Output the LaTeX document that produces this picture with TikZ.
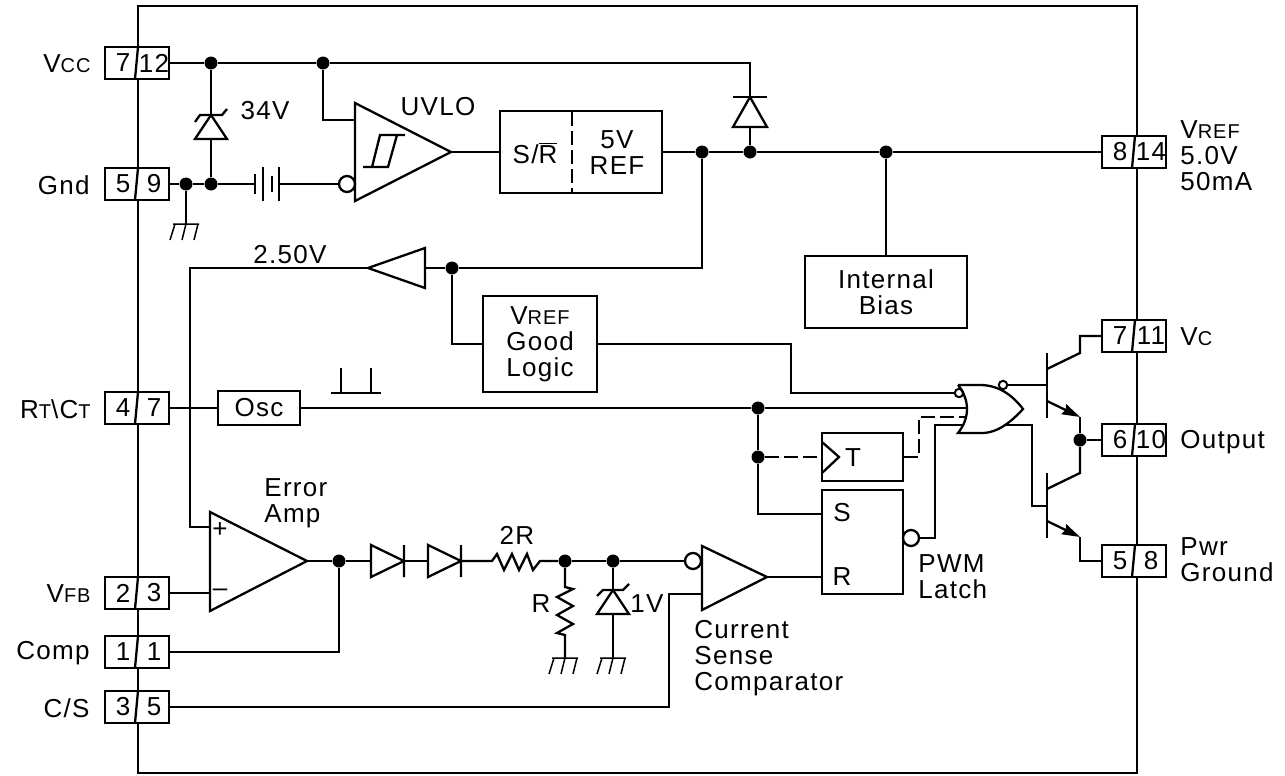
\documentclass[tikz,border=0pt]{standalone}
\usepackage{fontspec}
\setmainfont[LetterSpace=5]{Liberation Sans}
\usepackage{tikz}
\usetikzlibrary{arrows.meta}

\tikzset{
  wire/.style={line width=1.15pt},
  pinbox/.style={draw,line width=1.15pt,fill=white,minimum width=32pt,minimum height=16pt,inner sep=0pt},
  blockbox/.style={draw,line width=1.15pt,fill=white,inner sep=0pt},
  dot/.style={circle,fill=black,minimum size=6.5pt,inner sep=0pt},
  bubble/.style={circle,draw,line width=1.15pt,fill=white,minimum size=8pt,inner sep=0pt},
  smallbubble/.style={circle,draw,line width=1pt,fill=white,minimum size=4.2pt,inner sep=0pt},
  lbl/.style={inner sep=0pt,align=center,font=\fontsize{13}{13}\selectfont},
  lblleft/.style={lbl,anchor=west,align=left},
  dashwire/.style={wire,dash pattern=on 7pt off 2.5pt},
  tip/.style={-{Stealth[length=9pt,width=5.5pt,inset=1pt]}}
}

\newcommand{\pinnum}[5]{%
  \node[pinbox] (#1) at (#2,#3) {};
  \node[lbl] (#1a) at (#2-14,#3) {#4};
  \node[lbl] (#1b) at (#2+17,#3) {#5};
  \draw[wire] (#2+1,#3-16) -- (#2-2,#3+16);
}
\newcommand{\gndsym}[2]{%
  \draw[line width=0.75pt] (#1-13,#2) -- (#1+13,#2)
    (#1-11,#2) -- (#1-16,#2+16)
    (#1,#2) -- (#1-4,#2+16)
    (#1+12,#2) -- (#1+8,#2+16);
}
\newcommand{\smallcap}[1]{{\fontsize{10}{10}\selectfont #1}}

\begin{document}
\begin{tikzpicture}[x=0.5pt,y=-0.5pt]
  \useasboundingbox (0,0) rectangle (1285,776);

  % chip outline
  \draw[wire] (138,6) rectangle (1137,773);

  % pins
  \pinnum{vcc}{137}{63}{7}{12}
  \pinnum{gnd}{137}{184}{5}{9}
  \pinnum{rtct}{137}{408}{4}{7}
  \pinnum{vfb}{137}{593}{2}{3}
  \pinnum{comp}{137}{652}{1}{1}
  \pinnum{cs}{137}{707}{3}{5}
  \pinnum{vref}{1134}{152}{8}{14}
  \pinnum{vc}{1134}{336}{7}{11}
  \pinnum{out}{1134}{440}{6}{10}
  \pinnum{pwr}{1134}{561}{5}{8}

  \node[lbl,anchor=east] (vccl) at (91,64) {V\smallcap{CC}};
  \node[lbl,anchor=east] (gndl) at (90,185) {Gnd};
  \node[lbl,anchor=east] (rtctl) at (91,409) {R\smallcap{T}\textbackslash C\smallcap{T}};
  \node[lbl,anchor=east] (vfbl) at (91,594) {V\smallcap{FB}};
  \node[lbl,anchor=east] (compl) at (90,653) {Comp};
  \node[lbl,anchor=east] (csl) at (90,708) {C/S};
  \node[lblleft] (vrefl) at (1180,156) {V\smallcap{REF}\\5.0V\\50mA};
  \node[lblleft] (vcl) at (1180,337) {V\smallcap{C}};
  \node[lblleft] (outl) at (1180,442) {Output};
  \node[lblleft] (pwrl) at (1180,560) {Pwr\\Ground};

  % blocks
  \node[blockbox,minimum width=81pt,minimum height=41pt] (refbox) at (581,152) {};
  \node[lbl] (srl) at (535,153) {S/$\overline{\mbox{R}}$};
  \node[lbl] (refl) at (617,153) {5V\\REF};
  \draw[dashwire] (572,112) -- (572,192);
  \node[blockbox,minimum width=81pt,minimum height=36pt,align=center,lbl] (bias) at (886,292) {Internal\\Bias};
  \node[blockbox,minimum width=57pt,minimum height=48pt,lbl] (good) at (540,344) {V\smallcap{REF}\\Good\\Logic};
  \node[blockbox,minimum width=41pt,minimum height=17pt,lbl] (osc) at (259,408) {Osc};
  \node[blockbox,minimum width=40.5pt,minimum height=24pt] (tbox) at (862.5,457) {};
  \node[lbl] (tl) at (853,458) {T};
  \node[blockbox,minimum width=40.5pt,minimum height=52pt] (latch) at (862.5,542) {};
  \node[lbl] (sl) at (842,513) {S};
  \node[lbl] (rl) at (842,577) {R};

  % junctions
  \node[dot] (j1) at (211,63) {};
  \node[dot] (j2) at (323,63) {};
  \node[dot] (j3) at (186,184) {};
  \node[dot] (j4) at (211,184) {};
  \node[dot] (j5) at (702,152) {};
  \node[dot] (j6) at (750,152) {};
  \node[dot] (j7) at (886,152) {};
  \node[dot] (j8) at (452,268) {};
  \node[dot] (j9) at (758,408) {};
  \node[dot] (j10) at (758,457) {};
  \node[dot] (j11) at (339,561) {};
  \node[dot] (j12) at (565,561) {};
  \node[dot] (j13) at (613,561) {};
  \node[dot] (j14) at (1080,440) {};

  \coordinate (uvloa) at (355,120);
  \coordinate (uvloy) at (451,152);
  \coordinate (bufa) at (425,268);
  \coordinate (bufy) at (368,268);
  \coordinate (errp) at (210,527);
  \coordinate (errm) at (210,593);
  \coordinate (erry) at (307,561);
  \coordinate (cmpb) at (702,594);
  \coordinate (cmpy) at (767,577);
  \coordinate (orb) at (968,408);
  \coordinate (orc) at (965,417);
  \coordinate (ord) at (962,425);
  \coordinate (ory) at (1005,425);
  \coordinate (q1b) at (1047,385);
  \coordinate (q2b) at (1047,506);

  \node[bubble] (uvlon) at (347,184) {};
  \node[bubble] (cmpn) at (693,561) {};
  \node[bubble] (latchn) at (911,538) {};
  \node[smallbubble] (orn) at (959,393) {};
  \node[smallbubble] (ory2) at (1003,385) {};

  % supply rail and zener
  \draw[wire] (vcc) -- (j1) -- (j2) -- (750,63) -- (750,97);
  \draw[wire] (j1) -- (211,115);
  \draw[wire] (211,139) -- (j4);
  \draw[wire] (195,122) -- (200,115) -- (222,115) -- (227,109);
  \draw[wire] (211,115) -- (195,139) -- (227,139) -- cycle;
  \node[lbl] (zl) at (265,111) {34V};
  \draw[wire] (j2) |- (uvloa);

  % ground and battery
  \draw[wire] (gnd) -- (j3) -- (j4) -- (255,184);
  \draw[wire] (j3) -- (186,224);
  \gndsym{186}{224}
  \draw[wire] (255,174) -- (255,194) (263,167) -- (263,201) (272,176) -- (272,192) (279,167) -- (279,201);
  \draw[wire] (279,184) -- (uvlon);

  % UVLO comparator
  \draw[wire] (355,103) -- (355,201) -- (451,152) -- cycle;
  \draw[wire] (363,167) -- (388,167) -- (397,135) -- (405,135) (372,167) -- (380,135) -- (397,135);
  \node[lbl] (uvlol) at (438,107) {UVLO};
  \draw[wire] (uvloy) -- (refbox.west);

  % reference rail
  \draw[wire] (refbox.east) -- (j5) -- (j6) -- (j7) -- (vref);
  \draw[wire] (733,97) -- (767,97);
  \draw[wire] (750,97) -- (733,127) -- (767,127) -- cycle;
  \draw[wire] (750,127) -- (j6);
  \draw[wire] (j7) -- (bias);

  % 2.50V buffer
  \draw[wire] (j5) |- (j8) -- (bufa);
  \draw[wire] (425,248) -- (425,288) -- (368,268) -- cycle;
  \draw[wire] (bufy) -| (190,527) -- (errp);
  \node[lbl] (vbl) at (290,255) {2.50V};
  \draw[wire] (j8) |- (good.west);
  \draw[wire] (good.east) -- (791,344) |- (orn);

  % oscillator
  \draw[wire] (rtct) -- (osc);
  \draw[wire] (osc) -- (j9) -- (orb);
  \draw[wire] (331,393) -- (381,393) (341,393) -- (341,368) (371,393) -- (371,368);
  \draw[wire] (j9) -- (j10) |- (822,514);
  \draw[dashwire] (j10) -- (tbox.west);
  \draw[wire] (822,442) -- (839,457) -- (822,473);
  \draw[dashwire] (tbox.east) -- (919,457) |- (orc);

  % error amp
  \draw[wire] (210,512) -- (210,611) -- (307,561) -- cycle;
  \node[lbl] (plusl) at (220,530) {+};
  \node[lbl] (minusl) at (220,593) {--};
  \node[lblleft] (errl) at (264,503) {Error\\Amp};
  \draw[wire] (vfb) -- (errm);
  \draw[wire] (erry) -- (j11) -- (371,561);
  \draw[wire] (j11) |- (comp);

  % diodes and divider
  \draw[wire] (371,545) -- (371,577) -- (404,561) -- cycle (404,545) -- (404,577);
  \draw[wire] (404,561) -- (428,561);
  \draw[wire] (428,545) -- (428,577) -- (461,561) -- cycle (461,545) -- (461,577);
  \draw[wire] (461,561) -- (492,561) -- (497,554) -- (504,570) -- (512,554) -- (519,570) -- (527,554) -- (533,570) -- (540,561) -- (j12);
  \node[lbl] (rl2) at (517,535) {2R};
  \draw[wire] (j12) -- (565,587) -- (573,589) -- (557,597) -- (573,606) -- (557,615) -- (573,624) -- (557,633) -- (565,635) -- (565,658);
  \draw[wire] (j12) -- (j13) -- (cmpn);
  \gndsym{565}{658}
  \node[lbl] (rl1) at (541,604) {R};
  \draw[wire] (j13) -- (613,590);
  \draw[wire] (613,590) -- (597,614) -- (629,614) -- cycle;
  \draw[wire] (597,596) -- (603,590) -- (623,590) -- (629,584);
  \draw[wire] (613,614) -- (613,658);
  \gndsym{613}{658}
  \node[lbl] (vl1) at (647,604) {1V};

  % current sense comparator
  \draw[wire] (702,546) -- (702,610) -- (767,577) -- cycle;
  \draw[wire] (cs) -- (669,707) |- (cmpb);
  \draw[wire] (cmpy) -- (822,577);
  \node[lblleft] (cmpl) at (694,658) {Current\\Sense\\Comparator};

  % latch
  \draw[wire] (latchn) -- (935,538) |- (ord);
  \node[lblleft] (pwml) at (918,577) {PWM\\Latch};

  % output gate
  \draw[wire] (958,385) -- (980,385) .. controls (1000,385) and (1014,397) .. (1023,409)
    .. controls (1012,421) and (998,433) .. (982,433) -- (958,433)
    .. controls (970,418) and (970,400) .. (958,385);
  \draw[wire] (ory2) -- (q1b);
  \draw[wire] (ory) -- (1032,425) |- (q2b);

  % output transistors
  \draw[wire] (1047,353) -- (1047,418);
  \draw[wire] (1047,369) -- (1080,353) |- (vc);
  \draw[wire,tip] (1047,401) -- (1080,417);
  \draw[wire] (1080,417) -- (j14) -- (out);
  \draw[wire] (1047,473) -- (1047,538);
  \draw[wire] (1047,489) -- (1080,473) -- (j14);
  \draw[wire,tip] (1047,521) -- (1080,537);
  \draw[wire] (1080,537) |- (pwr);
\end{tikzpicture}
\end{document}
